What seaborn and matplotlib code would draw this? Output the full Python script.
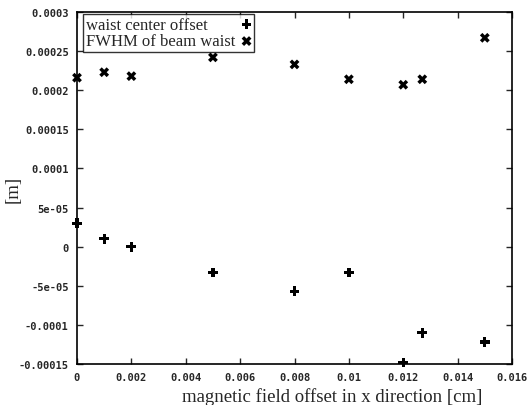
import numpy as np
import pandas as pd
import matplotlib
matplotlib.use("Agg")
import matplotlib.pyplot as plt
import seaborn as sns

# field offsets [cm] and measured values [m]
x_offset = [0.0, 0.001, 0.002, 0.005, 0.008, 0.010, 0.012, 0.0127, 0.015]
center_offset = [3.0e-5, 1.0e-5, 0.0, -3.3e-5, -5.7e-5, -3.3e-5, -1.48e-4, -1.10e-4, -1.22e-4]
fwhm_waist = [2.16e-4, 2.23e-4, 2.18e-4, 2.42e-4, 2.33e-4, 2.14e-4, 2.07e-4, 2.14e-4, 2.67e-4]

xticks = [0, 0.002, 0.004, 0.006, 0.008, 0.010, 0.012, 0.014, 0.016]
xticklabels = ["0", "0.002", "0.004", "0.006", "0.008", "0.01", "0.012", "0.014", "0.016"]
yticks = [-0.00015, -0.0001, -5e-05, 0, 5e-05, 0.0001, 0.00015, 0.0002, 0.00025, 0.0003]
yticklabels = ["-0.00015", "-0.0001", "-5e-05", "0", "5e-05", "0.0001",
               "0.00015", "0.0002", "0.00025", "0.0003"]

sns.set_style("ticks")
plt.rcParams['font.family'] = ['Liberation Serif', 'DejaVu Serif']

df1 = pd.DataFrame({"x": x_offset, "y": center_offset})
df2 = pd.DataFrame({"x": x_offset, "y": fwhm_waist})

fig = plt.figure(figsize=(5.3, 4.06), dpi=100)
ax = fig.add_axes([77 / 530, 41 / 406, 435 / 530, 352 / 406])

sns.scatterplot(data=df1, x="x", y="y", ax=ax, marker="P", s=50, color="black",
                edgecolor="none", label="waist center offset", clip_on=False)
sns.scatterplot(data=df2, x="x", y="y", ax=ax, marker="X", s=50, color="black",
                edgecolor="none", label="FWHM of beam waist", clip_on=False)

ax.set_xlim(0, 0.016)
ax.set_ylim(-0.00015, 0.0003)
ax.set_xticks(xticks)
ax.set_xticklabels(xticklabels)
ax.set_yticks(yticks)
ax.set_yticklabels(yticklabels)
ax.tick_params(direction="in", top=True, right=True, length=4, width=1, pad=6)
for lab in ax.get_xticklabels() + ax.get_yticklabels():
    lab.set_fontfamily("DejaVu Sans Mono")
    lab.set_fontweight("bold")
    lab.set_fontsize(7.5)
for sp in ax.spines.values():
    sp.set_linewidth(1.2)
    sp.set_color("black")

ax.set_xlabel("magnetic field offset in x direction [cm]", fontsize=13.5)
ax.xaxis.set_label_coords(0.586, -0.091, transform=ax.transAxes)
ax.xaxis.label.set_verticalalignment("center")
ax.set_ylabel("[m]", fontsize=13.5)
ax.yaxis.set_label_coords(-0.147, 0.5, transform=ax.transAxes)
ax.yaxis.label.set_verticalalignment("center")

leg = ax.legend(loc="upper left", bbox_to_anchor=(0.0138, 0.994), markerfirst=False,
                fontsize=12, frameon=True, fancybox=False, borderpad=0.15,
                handletextpad=0.4, labelspacing=0.05, borderaxespad=0.0,
                handlelength=0.6)
leg.get_frame().set_edgecolor("black")
leg.get_frame().set_linewidth(1.0)

# gnuplot-style key: left-aligned text, markers in one column on the right
fig.canvas.draw()
r = fig.canvas.get_renderer()
widths = [t.get_window_extent(r).width for t in leg.get_texts()]
rows = leg._legend_handle_box.get_children()[0].get_children()
for row, w in zip(rows, widths):
    row.sep = row.sep + (max(widths) - w) * 72 / fig.dpi

fig.savefig("out.png", dpi=100)
